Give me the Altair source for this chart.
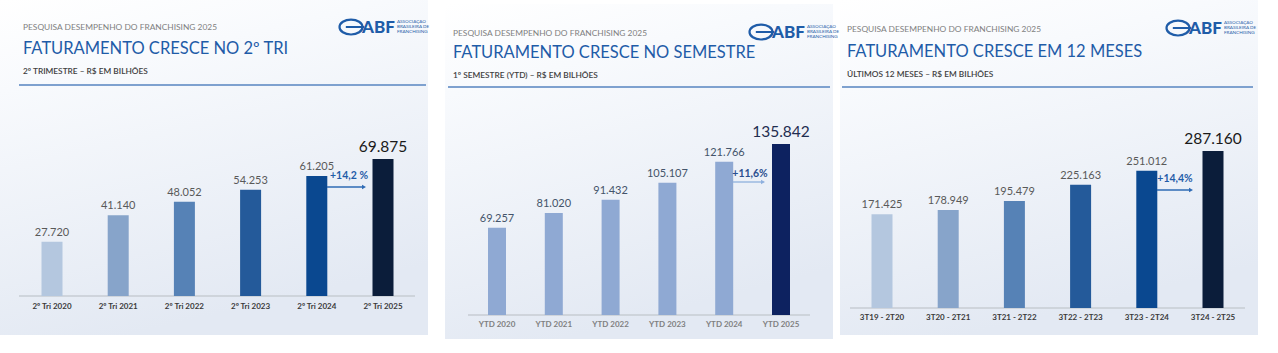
import altair as alt
import pandas as pd

FONT = "Lato"

# ---------------- data ----------------
header_top = "PESQUISA DESEMPENHO DO FRANCHISING 2025"
titles = ["FATURAMENTO CRESCE NO 2º TRI", "FATURAMENTO CRESCE NO SEMESTRE", "FATURAMENTO CRESCE EM 12 MESES"]
subtitles = ["2º TRIMESTRE – R$ EM BILHÕES", "1º SEMESTRE (YTD) – R$ EM BILHÕES", "ÚLTIMOS 12 MESES – R$ EM BILHÕES"]

cats1 = ["2º Tri 2020", "2º Tri 2021", "2º Tri 2022", "2º Tri 2023", "2º Tri 2024", "2º Tri 2025"]
vals1 = [27.720, 41.140, 48.052, 54.253, 61.205, 69.875]

cats2 = ["YTD 2020", "YTD 2021", "YTD 2022", "YTD 2023", "YTD 2024", "YTD 2025"]
vals2 = [69.257, 81.020, 91.432, 105.107, 121.766, 135.842]

cats3 = ["3T19 - 2T20", "3T20 - 2T21", "3T21 - 2T22", "3T22 - 2T23", "3T23 - 2T24", "3T24 - 2T25"]
vals3 = [171.425, 178.949, 195.479, 225.163, 251.012, 287.160]

growth = ["+14,2 %", "+11,6%", "+14,4%"]

logo_word = "ABF"
logo_small = ["ASSOCIAÇÃO", "BRASILEIRA DE", "FRANCHISING"]

# ---------------- styles ----------------
pal_blues = ["#b4c7df", "#87a4ca", "#5682b6", "#245a9a", "#0a4890", "#0b1d3a"]
pal_ytd = ["#8fa9d3", "#8fa9d3", "#8fa9d3", "#8fa9d3", "#8fa9d3", "#0d2260"]

panels = [
    dict(bg=(0, 0, 428, 335), hx=23, hy=(27, 49, 72), line=(19, 426, 85),
         logo=(351, 27), xr=[18.9, 416.1], ydom=[0, 70], yr=[296, 158.8],
         axis=(19, 415, 296), caty=307, bw=21, lab="#595959", big="#1a1a1a",
         cat="#3a3a3a", gcol="#1f5ca8", gpos=(349, 176), arrow=(327, 366, 187),
         acol="#2e6bb5"),
    dict(bg=(445, 4, 833, 339), hx=453, hy=(33, 53, 76), line=(448, 830, 87),
         logo=(761, 32), xr=[468.6, 809.4], ydom=[0, 140], yr=[315, 138.7],
         axis=(468, 810, 315), caty=325, bw=18, lab="#44546a", big="#1f2d50",
         cat="#7f7f7f", gcol="#2a4f8f", gpos=(750, 174), arrow=(733, 765, 182),
         acol="#8eb0de"),
    dict(bg=(840, 0, 1258, 335), hx=847, hy=(29, 52, 75), line=(842, 1253, 87),
         logo=(1178, 28), xr=[848.9, 1246.1], ydom=[0, 300], yr=[308, 143.9],
         axis=(850, 1245, 308), caty=318, bw=21, lab="#595959", big="#1a1a1a",
         cat="#3a3a3a", gcol="#1f5ca8", gpos=(1175, 179), arrow=(1157, 1193, 190),
         acol="#2e6bb5"),
]

one = pd.DataFrame({"k": [0]})
grad = alt.LinearGradient(
    gradient="linear", x1=0, x2=0.3, y1=0, y2=1,
    stops=[alt.GradientStop(offset=0, color="#ffffff"),
           alt.GradientStop(offset=0.25, color="#f8fafd"),
           alt.GradientStop(offset=1, color="#e3e9f3")])

ELLIPSE = "M -1 0 A 1 0.65 0 1 1 1 0 A 1 0.65 0 1 1 -1 0 Z M -0.45 0 L 1.15 0"


def make_panel(i, cats, vals, palette):
    c = panels[i]
    df = pd.DataFrame({"cat": cats, "val": vals, "color": palette,
                       "last": [False] * (len(cats) - 1) + [True]})
    xs = alt.Scale(domain=cats, range=c["xr"], paddingInner=0, paddingOuter=0)
    ys = alt.Scale(domain=c["ydom"], range=c["yr"], nice=False, zero=True)
    X = alt.X("cat:N", scale=xs, axis=None)
    Y = alt.Y("val:Q", scale=ys, axis=None)

    x0, y0, x1, y1 = c["bg"]
    bg = alt.Chart(one).mark_rect(fill=grad).encode(
        x=alt.value(x0), x2=alt.value(x1), y=alt.value(y0), y2=alt.value(y1))

    h1 = alt.Chart(one).mark_text(text=header_top, align="left", baseline="middle",
                                  font=FONT, fontSize=8.4, color="#808080").encode(
        x=alt.value(c["hx"]), y=alt.value(c["hy"][0]))
    h2 = alt.Chart(one).mark_text(text=titles[i], align="left", baseline="middle",
                                  font=FONT, fontSize=16.5, color="#1f5ca8").encode(
        x=alt.value(c["hx"]), y=alt.value(c["hy"][1]))
    h3 = alt.Chart(one).mark_text(text=subtitles[i], align="left", baseline="middle",
                                  font=FONT, fontSize=8.3, fontWeight=600,
                                  color="#404040").encode(
        x=alt.value(c["hx"]), y=alt.value(c["hy"][2]))
    lx0, lx1, ly = c["line"]
    hline = alt.Chart(one).mark_rule(color="#7ea1cf", strokeWidth=2.2).encode(
        x=alt.value(lx0), x2=alt.value(lx1), y=alt.value(ly))

    gx, gy = c["logo"]
    lg1 = alt.Chart(one).mark_point(shape=ELLIPSE, size=529, filled=False,
                                    stroke="#1f5ca8", strokeWidth=2.2, opacity=1).encode(
        x=alt.value(gx), y=alt.value(gy))
    lg2 = alt.Chart(one).mark_text(text=logo_word, align="left", baseline="middle",
                                   font=FONT, fontSize=17, fontWeight=900,
                                   color="#1f5ca8").encode(
        x=alt.value(gx + 11), y=alt.value(gy + 1))
    lg3 = [alt.Chart(one).mark_text(text=t, align="left", baseline="middle", font=FONT,
                                    fontSize=4.6, color="#1f5ca8").encode(
        x=alt.value(gx + 46), y=alt.value(gy - 5 + 5 * k))
        for k, t in enumerate(logo_small)]

    ax0, ax1, ay = c["axis"]
    axis = alt.Chart(one).mark_rule(color="#c7ccd3", strokeWidth=1.5).encode(
        x=alt.value(ax0), x2=alt.value(ax1), y=alt.value(ay))

    base = alt.Chart(df)
    bars = base.mark_bar(width=c["bw"]).encode(
        x=X, y=Y, color=alt.Color("color:N", scale=None))
    labs = base.transform_filter("!datum.last").mark_text(
        baseline="bottom", dy=-4, font=FONT, fontSize=11, color=c["lab"]).encode(
        x=X, y=Y, text=alt.Text("val:Q", format=".3f"))
    labbig = base.transform_filter("datum.last").mark_text(
        baseline="bottom", dy=-4, font=FONT, fontSize=15.5, color=c["big"]).encode(
        x=X, y=Y, text=alt.Text("val:Q", format=".3f"))
    catl = base.mark_text(baseline="middle", font=FONT, fontSize=8,
                          fontWeight="bold", color=c["cat"]).encode(
        x=X, y=alt.value(c["caty"]), text="cat:N")

    px, py = c["gpos"]
    gtxt = alt.Chart(one).mark_text(text=growth[i], align="center", baseline="middle",
                                    font=FONT, fontSize=10.5, fontWeight="bold",
                                    color=c["gcol"]).encode(
        x=alt.value(px), y=alt.value(py))
    a0, a1, ayy = c["arrow"]
    arr = alt.Chart(one).mark_rule(color=c["acol"], strokeWidth=1.3).encode(
        x=alt.value(a0), x2=alt.value(a1 - 3), y=alt.value(ayy))
    head = alt.Chart(one).mark_point(shape="triangle-right", filled=True, size=22,
                                     color=c["acol"], opacity=1).encode(
        x=alt.value(a1 - 2), y=alt.value(ayy))

    return alt.layer(bg, h1, h2, h3, hline, lg1, lg2, *lg3, axis, bars, labs,
                     labbig, catl, gtxt, arr, head)


p1 = make_panel(0, cats1, vals1, pal_blues)
p2 = make_panel(1, cats2, vals2, pal_ytd)
p3 = make_panel(2, cats3, vals3, pal_blues)

chart = alt.layer(p1, p2, p3).resolve_scale(x="independent", y="independent").properties(
    width=1278, height=353, autosize=alt.AutoSizeParams(type="none"),
    padding=0, background="#ffffff"
).configure_view(strokeWidth=0)

chart.save("out.html", embed_options={"renderer": "svg", "actions": False})
